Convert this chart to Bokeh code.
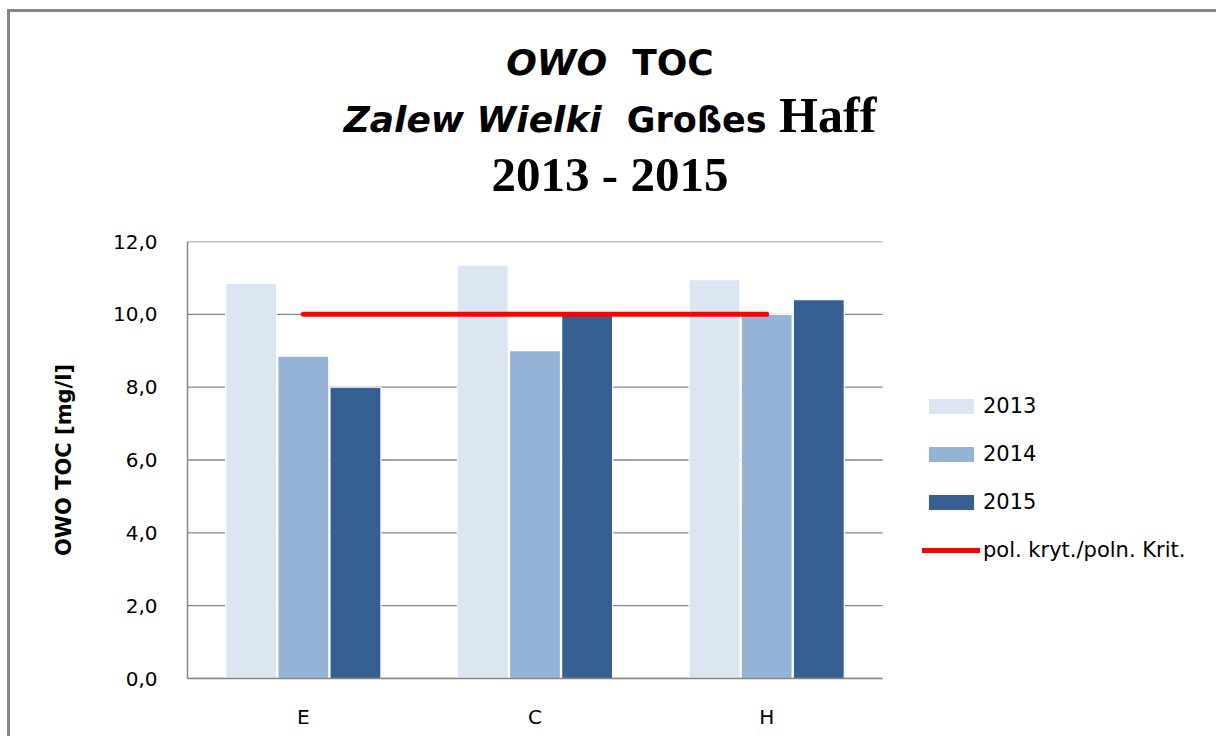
from bokeh.plotting import figure
from bokeh.layouts import column
from bokeh.models import (Range1d, Legend, LegendItem, Div,
                          ColumnDataSource, FixedTicker)
from bokeh.transform import dodge
from bokeh.embed import file_html
from bokeh.resources import INLINE

# ---------------- data ----------------
stations = ["E", "C", "H"]
toc_2013 = [10.85, 11.35, 10.95]
toc_2014 = [8.85, 9.0, 10.0]
toc_2015 = [8.0, 10.0, 10.4]
criterion = 10.0
series_labels = ["2013", "2014", "2015"]
criterion_label = "pol. kryt./poln. Krit."
y_ticks = [0, 2, 4, 6, 8, 10, 12]
y_tick_labels = ["0,0", "2,0", "4,0", "6,0", "8,0", "10,0", "12,0"]
y_title = "OWO TOC [mg/l]"

# ---------------- layout ----------------
SANS = "DejaVu Sans"
SERIF = "Liberation Serif"
GREY = "#868686"
colors = ["#dce6f2", "#95b3d7", "#376092"]

FIG_W, FIG_H = 1206, 514
ML, MT, MB = 177, 19, 58
PLOT_AREA_W = 695            # width of the category area (E, C, H)
TITLE_W, TITLE_H = 1206, 210

n = len(stations)
frame_w = FIG_W - ML
x_end = n * frame_w / PLOT_AREA_W

p = figure(width=FIG_W, height=FIG_H, x_range=Range1d(0, x_end),
           y_range=Range1d(y_ticks[0], y_ticks[-1]), output_backend="svg",
           toolbar_location=None, min_border_left=ML, min_border_right=0,
           min_border_top=MT, min_border_bottom=MB)
p.outline_line_color = None
p.background_fill_color = "white"
p.border_fill_color = "white"

xpos = [i + 0.5 for i in range(n)]

# horizontal grid lines across the category area only
grid_src = ColumnDataSource(dict(x0=[0] * len(y_ticks), x1=[n] * len(y_ticks), y=y_ticks))
p.segment(x0="x0", x1="x1", y0="y", y1="y", source=grid_src,
          line_color=GREY, line_width=1.4)
p.xgrid.grid_line_color = None
p.ygrid.grid_line_color = None

src = ColumnDataSource(dict(x=xpos, y2013=toc_2013, y2014=toc_2014, y2015=toc_2015))
offsets = [-0.225, 0.0, 0.225]
cols = ["y2013", "y2014", "y2015"]
bar_renderers = []
for off, col, c in zip(offsets, cols, colors):
    r = p.vbar(x=dodge("x", off), top=col, width=0.22, source=src,
               fill_color=c, line_color="white", line_width=1.2)
    bar_renderers.append(r)

crit_src = ColumnDataSource(dict(x=[xpos[0], xpos[-1]], y=[criterion, criterion]))
crit_r = p.line(x="x", y="y", source=crit_src, line_color="#ff0000",
                line_width=5, line_cap="round")

# axes
p.xaxis.ticker = FixedTicker(ticks=xpos)
p.xaxis.major_label_overrides = {x: s for x, s in zip(xpos, stations)}
p.xaxis.bounds = (0, n)
p.yaxis.ticker = FixedTicker(ticks=y_ticks)
p.yaxis.major_label_overrides = {t: s for t, s in zip(y_ticks, y_tick_labels)}
for ax in (p.xaxis[0], p.yaxis[0]):
    ax.axis_line_color = GREY
    ax.axis_line_width = 1.5
    ax.major_tick_line_color = None
    ax.minor_tick_line_color = None
    ax.major_label_text_font = SANS
    ax.major_label_text_font_size = "20px"
    ax.major_label_text_color = "#000000"
p.yaxis.major_label_standoff = 24
p.xaxis.major_label_standoff = 20
p.yaxis.axis_label = y_title
p.yaxis.axis_label_text_font = SANS
p.yaxis.axis_label_text_font_size = "21px"
p.yaxis.axis_label_text_font_style = "bold"
p.yaxis.axis_label_text_color = "#000000"
p.yaxis.axis_label_standoff = 34

# legend (inside the frame, to the right of the category area)
legend = Legend(items=[LegendItem(label=series_labels[i], renderers=[bar_renderers[i]]) for i in range(3)]
                + [LegendItem(label=criterion_label, renderers=[crit_r])],
                location=(735, 116))
legend.border_line_color = None
legend.background_fill_alpha = 0
legend.padding = 0
legend.margin = 0
legend.spacing = 24
legend.glyph_width = 58
legend.glyph_height = 20
legend.label_height = 20
legend.label_standoff = 3
legend.label_text_font = SANS
legend.label_text_font_size = "21px"
legend.label_text_color = "#000000"
p.add_layout(legend)

# title (mixed fonts, as in the original)
title_html = f"""
<div style="position:relative;width:{TITLE_W}px;height:{TITLE_H}px;color:#000;">
 <div style="position:absolute;left:0;top:33px;width:1200px;text-align:center;white-space:nowrap;
             font-family:'{SANS}';font-size:36px;font-weight:bold;line-height:36px;">
  <span style="font-style:italic;">OWO</span>&nbsp;&nbsp;<span>TOC</span>
 </div>
 <div style="position:absolute;left:0;top:85px;width:1200px;text-align:center;white-space:nowrap;
             font-family:'{SANS}';font-size:36px;font-weight:bold;line-height:36px;">
  <span style="font-style:italic;">Zalew Wielki</span>&nbsp;&nbsp;<span style="font-size:35px;">Großes</span>
  <span style="font-family:'{SERIF}';font-size:50px;">Haff</span>
 </div>
 <div style="position:absolute;left:0;top:138px;width:1200px;text-align:center;white-space:nowrap;
             font-family:'{SERIF}';font-size:49px;font-weight:bold;line-height:49px;">
  2013 - 2015
 </div>
</div>
"""
title = Div(text=title_html, width=TITLE_W, height=TITLE_H, margin=0)

layout = column(title, p, margin=(9, 0, 0, 7), spacing=0,
                styles={"border-top": f"3px solid {GREY}", "border-left": f"3px solid {GREY}"})

open("out.html", "w").write(file_html(layout, INLINE))
